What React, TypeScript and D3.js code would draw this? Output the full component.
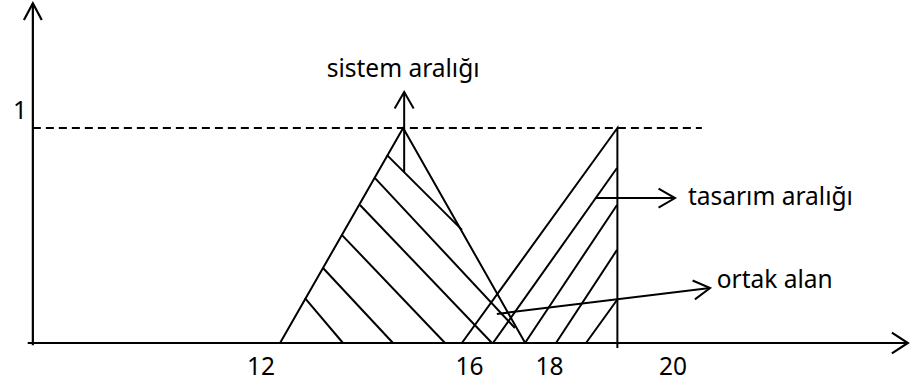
import React from "react";
import * as d3 from "d3";

// ---- data (x in scale units, y = membership) ----
const tickLabels = ["12", "16", "18", "20"];
const tickPositions = [12, 16.05, 17.6, 20];

const xAxisExtent = [7.47, 24.56];
const yAxisAt = 7.57;
const yAxisExtent = [-0.01, 1.58];
const dashedLevel = 1;
const dashedExtent = [7.57, 20.56];
const levelLabel = "1";

// triangles: [x, y] vertices
const sistemTriangle: [number, number][] = [
  [12.37, 0],
  [14.76, 1],
  [17.13, 0],
];
const tasarimTriangle: [number, number][] = [
  [15.9, 0],
  [18.92, 1],
  [18.92, -0.023],
];

// hatch segments [x1, y1, x2, y2]
const sistemHatches: [number, number, number, number][] = [
  [12.854, 0.209, 13.592, 0],
  [13.204, 0.349, 14.563, 0],
  [13.573, 0.502, 15.573, 0],
  [13.922, 0.642, 16.485, 0],
  [14.214, 0.767, 16.93, 0.07],
  [14.447, 0.874, 15.903, 0.526],
];
const tasarimHatches: [number, number, number, number][] = [
  [16.505, 0, 18.913, 0.814],
  [17.126, 0, 18.913, 0.642],
  [17.728, 0, 18.913, 0.433],
  [18.311, 0, 18.913, 0.2],
];

// annotation arrows [x1, y1, x2, y2] and labels
const annotationNames = ["sistem aralığı", "tasarım aralığı", "ortak alan"];
const annotationArrows: [number, number, number, number][] = [
  [14.78, 0.795, 14.78, 1.167],
  [18.485, 0.674, 20.039, 0.674],
  [16.58, 0.135, 20.72, 0.256],
];
const annotationLabelPos: [number, number][] = [
  [14.76, 1.237],
  [20.29, 0.642],
  [20.85, 0.256],
];
const annotationAnchor = ["middle", "start", "start"];

const W = 918;
const H = 386;

const x = d3.scaleLinear().domain([12, 20]).range([261, 673]);
const y = d3.scaleLinear().domain([0, 1]).range([343, 128]);

function arrowHead(x1: number, y1: number, x2: number, y2: number, len = 19, ang = 30) {
  const a = Math.atan2(y2 - y1, x2 - x1);
  const r = (ang * Math.PI) / 180;
  const p1: [number, number] = [x2 - len * Math.cos(a - r), y2 - len * Math.sin(a - r)];
  const p2: [number, number] = [x2 - len * Math.cos(a + r), y2 - len * Math.sin(a + r)];
  return `M${p1[0]},${p1[1]}L${x2},${y2}L${p2[0]},${p2[1]}`;
}

const font = "'Noto Sans', sans-serif";

export default function App() {
  const line = d3
    .line<[number, number]>()
    .x((d) => x(d[0]))
    .y((d) => y(d[1]));

  const xa0 = x(xAxisExtent[0]);
  const xa1 = x(xAxisExtent[1]);
  const ya0 = y(yAxisExtent[0]);
  const ya1 = y(yAxisExtent[1]);
  const yax = x(yAxisAt);

  return (
    <svg
      width={W}
      height={H}
      style={{ position: "absolute", left: 0, top: 0, background: "#fff" }}
    >
      <rect width={W} height={H} fill="#fff" />
      {/* axes */}
      <g stroke="#000" strokeWidth={2.2} fill="none">
        <line x1={xa0} y1={y(0)} x2={xa1} y2={y(0)} />
        <path d={arrowHead(xa0, y(0), xa1, y(0), 19, 33)} />
        <line x1={yax} y1={ya0} x2={yax} y2={ya1} />
        <path d={arrowHead(yax, ya0, yax, ya1, 19, 28)} />
      </g>
      {/* dashed level */}
      <line
        x1={x(dashedExtent[0])}
        x2={x(dashedExtent[1])}
        y1={y(dashedLevel)}
        y2={y(dashedLevel)}
        stroke="#000"
        strokeWidth={1.9}
        strokeDasharray="8,5"
      />
      {/* triangles */}
      <g stroke="#000" strokeWidth={2} fill="none">
        <path d={line(sistemTriangle) || ""} />
        <path d={line(tasarimTriangle) || ""} />
        {sistemHatches.concat(tasarimHatches).map((h, i) => (
          <line key={i} x1={x(h[0])} y1={y(h[1])} x2={x(h[2])} y2={y(h[3])} />
        ))}
      </g>
      {/* annotations */}
      <g stroke="#000" strokeWidth={2} fill="none">
        {annotationArrows.map((a, i) => (
          <g key={i}>
            <line x1={x(a[0])} y1={y(a[1])} x2={x(a[2])} y2={y(a[3])} />
            <path d={arrowHead(x(a[0]), y(a[1]), x(a[2]), y(a[3]), 19, 30)} />
          </g>
        ))}
      </g>
      <g fontFamily={font} fontSize={24.5} fill="#000">
        {annotationNames.map((n, i) => (
          <text
            key={n}
            x={x(annotationLabelPos[i][0])}
            y={y(annotationLabelPos[i][1])}
            textAnchor={annotationAnchor[i] as any}
          >
            {n}
          </text>
        ))}
        {tickLabels.map((t, i) => (
          <text key={t} x={x(tickPositions[i])} y={375} textAnchor="middle">
            {t}
          </text>
        ))}
        <text x={27} y={y(dashedLevel) - 9} textAnchor="end">
          {levelLabel}
        </text>
      </g>
    </svg>
  );
}
